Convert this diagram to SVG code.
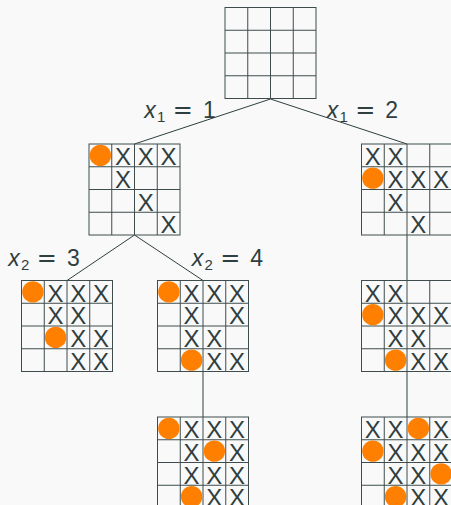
<svg xmlns="http://www.w3.org/2000/svg" xmlns:xlink="http://www.w3.org/1999/xlink" width="451" height="505" viewBox="0 0 451 505">
<style>
.bg{fill:#f9f9f9}
.cell{fill:none;stroke:#3e4c4d;stroke-width:1}
.x{font-family:"Liberation Sans",Arial,sans-serif;font-size:24px;fill:#2f3e3f;text-anchor:middle}
.q{fill:#ff8000}
.edge{stroke:#2f3e3f;stroke-width:1;fill:none}
.lbl{font-family:"Liberation Sans",Arial,sans-serif;font-size:23px;fill:#2f3e3f}
.lv{font-style:italic}
.sub{font-size:15px}
.eq{font-family:"DejaVu Sans",sans-serif;font-size:24px;text-anchor:middle}
.num{text-anchor:middle}
</style>
<defs>
<g id="grid">
<rect class="cell" x="0" y="0" width="91" height="91"/>
<path class="cell" d="M22.75 0V91M45.5 0V91M68.25 0V91M0 22.75H91M0 45.5H91M0 68.25H91"/>
</g>
</defs>
<rect class="bg" x="0" y="0" width="451" height="505"/>
<g id="connectors">
<line class="edge" x1="270.5" y1="99" x2="134.5" y2="144"/>
<line class="edge" x1="270.5" y1="99" x2="407" y2="144"/>
<line class="edge" x1="134.5" y1="235" x2="67" y2="280.5"/>
<line class="edge" x1="134.5" y1="235" x2="203" y2="280.5"/>
<line class="edge" x1="407" y1="235" x2="407" y2="280.5"/>
<line class="edge" x1="203" y1="371.5" x2="203" y2="417"/>
<line class="edge" x1="407" y1="371.5" x2="407" y2="417"/>
</g>
<g id="labels">
<text class="lbl" y="118"><tspan class="lv" x="144.3">x</tspan><tspan class="sub" x="157" dy="4">1</tspan><tspan class="eq" x="182.8" dy="-4">=</tspan><tspan class="num" x="209.3">1</tspan></text>
<text class="lbl" y="118"><tspan class="lv" x="326.7">x</tspan><tspan class="sub" x="339.4" dy="4">1</tspan><tspan class="eq" x="365.2" dy="-4">=</tspan><tspan class="num" x="391.7">2</tspan></text>
<text class="lbl" y="266"><tspan class="lv" x="8.3">x</tspan><tspan class="sub" x="21" dy="4">2</tspan><tspan class="eq" x="46.8" dy="-4">=</tspan><tspan class="num" x="73.3">3</tspan></text>
<text class="lbl" y="266"><tspan class="lv" x="191.7">x</tspan><tspan class="sub" x="204.4" dy="4">2</tspan><tspan class="eq" x="230.2" dy="-4">=</tspan><tspan class="num" x="256.7">4</tspan></text>
</g>
<g id="root" transform="translate(225,7.5)">
<use xlink:href="#grid"/>
</g>
<g id="n1" transform="translate(89,144)">
<use xlink:href="#grid"/>
<circle class="q" cx="11.375" cy="11.375" r="10.7"/>
<text class="x" x="34.125" y="21">X</text><text class="x" x="56.875" y="21">X</text><text class="x" x="79.625" y="21">X</text>
<text class="x" x="34.125" y="43.75">X</text>
<text class="x" x="56.875" y="66.5">X</text>
<text class="x" x="79.625" y="89.25">X</text>
</g>
<g id="n2" transform="translate(361.5,144)">
<use xlink:href="#grid"/>
<circle class="q" cx="11.375" cy="34.125" r="10.7"/>
<text class="x" x="11.375" y="21">X</text><text class="x" x="34.125" y="21">X</text>
<text class="x" x="34.125" y="43.75">X</text><text class="x" x="56.875" y="43.75">X</text><text class="x" x="79.625" y="43.75">X</text>
<text class="x" x="34.125" y="66.5">X</text>
<text class="x" x="56.875" y="89.25">X</text>
</g>
<g id="n3" transform="translate(21.5,280.5)">
<use xlink:href="#grid"/>
<circle class="q" cx="11.375" cy="11.375" r="10.7"/>
<circle class="q" cx="34.125" cy="56.875" r="10.7"/>
<text class="x" x="34.125" y="21">X</text><text class="x" x="56.875" y="21">X</text><text class="x" x="79.625" y="21">X</text>
<text class="x" x="34.125" y="43.75">X</text><text class="x" x="56.875" y="43.75">X</text>
<text class="x" x="56.875" y="66.5">X</text><text class="x" x="79.625" y="66.5">X</text>
<text class="x" x="56.875" y="89.25">X</text><text class="x" x="79.625" y="89.25">X</text>
</g>
<g id="n4" transform="translate(157.5,280.5)">
<use xlink:href="#grid"/>
<circle class="q" cx="11.375" cy="11.375" r="10.7"/>
<circle class="q" cx="34.125" cy="79.625" r="10.7"/>
<text class="x" x="34.125" y="21">X</text><text class="x" x="56.875" y="21">X</text><text class="x" x="79.625" y="21">X</text>
<text class="x" x="34.125" y="43.75">X</text><text class="x" x="79.625" y="43.75">X</text>
<text class="x" x="34.125" y="66.5">X</text><text class="x" x="56.875" y="66.5">X</text>
<text class="x" x="56.875" y="89.25">X</text><text class="x" x="79.625" y="89.25">X</text>
</g>
<g id="n5" transform="translate(361.5,280.5)">
<use xlink:href="#grid"/>
<circle class="q" cx="11.375" cy="34.125" r="10.7"/>
<circle class="q" cx="34.125" cy="79.625" r="10.7"/>
<text class="x" x="11.375" y="21">X</text><text class="x" x="34.125" y="21">X</text>
<text class="x" x="34.125" y="43.75">X</text><text class="x" x="56.875" y="43.75">X</text><text class="x" x="79.625" y="43.75">X</text>
<text class="x" x="34.125" y="66.5">X</text><text class="x" x="56.875" y="66.5">X</text>
<text class="x" x="56.875" y="89.25">X</text><text class="x" x="79.625" y="89.25">X</text>
</g>
<g id="n6" transform="translate(157.5,417)">
<use xlink:href="#grid"/>
<circle class="q" cx="11.375" cy="11.375" r="10.7"/>
<circle class="q" cx="56.875" cy="34.125" r="10.7"/>
<circle class="q" cx="34.125" cy="79.625" r="10.7"/>
<text class="x" x="34.125" y="21">X</text><text class="x" x="56.875" y="21">X</text><text class="x" x="79.625" y="21">X</text>
<text class="x" x="34.125" y="43.75">X</text><text class="x" x="79.625" y="43.75">X</text>
<text class="x" x="34.125" y="66.5">X</text><text class="x" x="56.875" y="66.5">X</text><text class="x" x="79.625" y="66.5">X</text>
<text class="x" x="56.875" y="89.25">X</text><text class="x" x="79.625" y="89.25">X</text>
</g>
<g id="n7" transform="translate(361.5,417)">
<use xlink:href="#grid"/>
<circle class="q" cx="56.875" cy="11.375" r="10.7"/>
<circle class="q" cx="11.375" cy="34.125" r="10.7"/>
<circle class="q" cx="79.625" cy="56.875" r="10.7"/>
<circle class="q" cx="34.125" cy="79.625" r="10.7"/>
<text class="x" x="11.375" y="21">X</text><text class="x" x="34.125" y="21">X</text><text class="x" x="79.625" y="21">X</text>
<text class="x" x="34.125" y="43.75">X</text><text class="x" x="56.875" y="43.75">X</text><text class="x" x="79.625" y="43.75">X</text>
<text class="x" x="34.125" y="66.5">X</text><text class="x" x="56.875" y="66.5">X</text>
<text class="x" x="56.875" y="89.25">X</text><text class="x" x="79.625" y="89.25">X</text>
</g>
</svg>
